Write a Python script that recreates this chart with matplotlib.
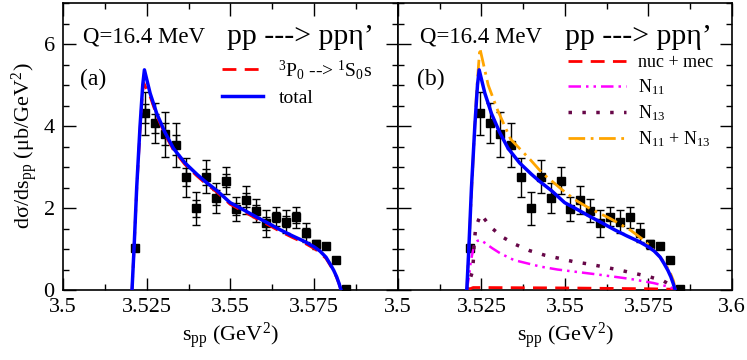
import matplotlib
matplotlib.use("Agg")
import matplotlib.pyplot as plt
from matplotlib.ticker import MultipleLocator

plt.rcParams['font.family'] = ['Liberation Serif', 'DejaVu Serif']
plt.rcParams['mathtext.fontset'] = 'custom'
plt.rcParams['mathtext.rm'] = 'Liberation Serif'
plt.rcParams['mathtext.it'] = 'Liberation Serif:italic'

# data points (s_pp in GeV^2, dsigma/ds_pp in mub/GeV^2)
s_data = [3.5215, 3.5245, 3.5275, 3.5304, 3.5337, 3.5367, 3.5397, 3.5427,
          3.5457, 3.5487, 3.5516, 3.5546, 3.5576, 3.5606, 3.5635, 3.5665,
          3.5695, 3.5724, 3.5754, 3.5784, 3.5814, 3.5844]
y_data = [1.02, 4.31, 4.07, 3.80, 3.54, 2.75, 1.99, 2.76, 2.25, 2.67, 1.98,
          2.20, 1.93, 1.63, 1.79, 1.67, 1.77, 1.40, 1.11, 1.08, 0.73, 0.02]
err_tot = [0.06, 0.52, 0.49, 0.55, 0.53, 0.47, 0.41, 0.40, 0.37, 0.32, 0.30,
           0.34, 0.28, 0.33, 0.24, 0.27, 0.26, 0.23, 0.10, 0.07, 0.04, 0.02]
err_stat = [0.03, 0.23, 0.23, 0.27, 0.25, 0.22, 0.20, 0.20, 0.18, 0.16, 0.15,
            0.17, 0.14, 0.16, 0.12, 0.13, 0.13, 0.11, 0.05, 0.04, 0.02, 0.01]

# total
s_total = [3.5206, 3.5212, 3.5220, 3.5230, 3.5238, 3.5243, 3.5260, 3.5280,
           3.5304, 3.5330, 3.5364, 3.5400, 3.5424, 3.5460, 3.5499, 3.5540,
           3.5573, 3.5610, 3.5648, 3.5685, 3.5722, 3.5750, 3.5767, 3.5785,
           3.5797, 3.5808, 3.5817, 3.5824, 3.5830]
y_total = [0.0, 1.0, 2.5, 4.0, 5.0, 5.37, 4.80, 4.30, 3.85, 3.45, 3.10, 2.82,
           2.65, 2.42, 2.13, 1.95, 1.80, 1.64, 1.47, 1.32, 1.18, 1.05, 0.95,
           0.80, 0.64, 0.48, 0.32, 0.16, 0.0]

# 3P0 --> 1S0 s
s_p0 = [3.5206, 3.5212, 3.5220, 3.5230, 3.5237, 3.5241, 3.5260, 3.5280,
        3.5304, 3.5330, 3.5364, 3.5400, 3.5424, 3.5460, 3.5499, 3.5540,
        3.5573, 3.5610, 3.5648, 3.5685, 3.5722, 3.5750, 3.5767, 3.5785,
        3.5797, 3.5808, 3.5817, 3.5824, 3.5830]
y_p0 = [0.0, 0.98, 2.45, 3.90, 4.80, 5.05, 4.72, 4.25, 3.80, 3.41, 3.06,
        2.78, 2.61, 2.38, 2.09, 1.91, 1.76, 1.60, 1.43, 1.28, 1.14, 1.01,
        0.91, 0.77, 0.61, 0.46, 0.30, 0.15, 0.0]

# nuc + mec
s_nuc = [3.5206, 3.5225, 3.5250, 3.5500, 3.5750, 3.5820, 3.5830]
y_nuc = [0.0, 0.06, 0.06, 0.05, 0.03, 0.02, 0.0]

# N11
s_n11 = [3.5206, 3.5212, 3.5218, 3.5228, 3.5238, 3.5248, 3.5282, 3.5307,
         3.5347, 3.5387, 3.5427, 3.5477, 3.5526, 3.5596, 3.5696, 3.5765,
         3.5815, 3.5830]
y_n11 = [0.0, 0.30, 0.70, 1.10, 1.20, 1.22, 1.02, 0.89, 0.73, 0.65, 0.57,
         0.50, 0.45, 0.38, 0.27, 0.17, 0.07, 0.0]

# N13
s_n13 = [3.5206, 3.5215, 3.5223, 3.5226, 3.5228, 3.5233, 3.5248, 3.5278,
         3.5313, 3.5352, 3.5394, 3.5439, 3.5484, 3.5526, 3.5574, 3.5661,
         3.5750, 3.5795, 3.5820, 3.5830]
y_n13 = [0.0, 0.25, 0.45, 0.77, 1.15, 1.54, 1.85, 1.53, 1.29, 1.11, 0.96,
         0.85, 0.77, 0.69, 0.63, 0.49, 0.33, 0.22, 0.10, 0.0]

# N11 + N13
s_sum = [3.5206, 3.5215, 3.5225, 3.5235, 3.5245, 3.5270, 3.5298, 3.5337,
         3.5397, 3.5432, 3.5457, 3.5501, 3.5536, 3.5576, 3.5636, 3.5696,
         3.5735, 3.5755, 3.5780, 3.5800, 3.5815, 3.5825, 3.5830]
y_sum = [0.0, 1.5, 3.2, 4.8, 5.9, 5.0, 4.39, 3.68, 3.17, 2.85, 2.68, 2.38,
         2.17, 1.98, 1.74, 1.46, 1.22, 1.06, 0.85, 0.65, 0.42, 0.22, 0.0]

xticks = [3.5, 3.525, 3.55, 3.575, 3.6]
yticks = [0, 2, 4, 6]

BLUE = '#0000FF'
RED = '#FF0000'
MAGENTA = '#FF00FF'
MAROON = '#670748'
ORANGE = '#FFA500'

W, H = 747, 360
fig = plt.figure(figsize=(W / 100, H / 100), dpi=100)
ax_a = fig.add_axes([63 / W, 1 - 290 / H, 335 / W, 287 / H])
ax_b = fig.add_axes([398 / W, 1 - 290 / H, 334 / W, 287 / H])


def style_axes(ax, ylabels=True, last_xlabel=True):
    ax.set_xlim(3.5, 3.6)
    ax.set_ylim(0, 7)
    ax.set_xticks(xticks)
    labels = ['3.5', '3.525', '3.55', '3.575', '3.6']
    if not last_xlabel:
        labels[-1] = ''
    ax.set_xticklabels(labels)
    ax.set_yticks(yticks)
    if ylabels:
        ax.set_yticklabels([str(v) for v in yticks])
    else:
        ax.set_yticklabels([])
    ax.xaxis.set_minor_locator(MultipleLocator(0.0125))
    ax.yaxis.set_minor_locator(MultipleLocator(0.5))
    ax.tick_params(which='both', direction='in', top=True, right=True,
                   labelsize=16, width=1.0)
    ax.tick_params(which='major', length=9, pad=6)
    ax.tick_params(which='minor', length=4.5)
    for sp in ax.spines.values():
        sp.set_linewidth(1.2)
    ax.set_xlabel(r'$\mathrm{s_{pp}}$ (GeV$^{2}$)', fontsize=16, labelpad=2)


def draw_data(ax, with_stat):
    ax.errorbar(s_data, y_data, yerr=err_tot, fmt='s', color='black',
                ms=6, elinewidth=1.0, capsize=3, capthick=1.0, zorder=5)
    if with_stat:
        ax.errorbar(s_data, y_data, yerr=err_stat, fmt='none', ecolor='black',
                    elinewidth=1.0, capsize=3, capthick=1.0, zorder=5)


# panel (a)
style_axes(ax_a, ylabels=True, last_xlabel=False)
draw_data(ax_a, True)
ax_a.plot(s_p0, y_p0, color=RED, lw=2, ls=(0, (5, 3)),
          label=r'$^{3}$P$_{0}$ --> $^{1}$S$_{0}$s', zorder=6)
ax_a.plot(s_total, y_total, color=BLUE, lw=2.5, label='total', zorder=7)
ax_a.legend(loc='upper left', bbox_to_anchor=(222 / W, 1 - 58 / H),
            bbox_transform=fig.transFigure, frameon=False, fontsize=14,
            handlelength=2.1, handletextpad=0.8, labelspacing=0.4,
            borderpad=0, borderaxespad=0)
fig.text(83 / W, 1 - 37 / H, 'Q=16.4 MeV', fontsize=16.5, va='center', ha='left')
fig.text(227 / W, 1 - 37 / H, 'pp ---> ppη’', fontsize=21.5, va='center', ha='left')
fig.text(80 / W, 1 - 79 / H, '(a)', fontsize=17, va='center', ha='left')

# panel (b)
style_axes(ax_b, ylabels=False, last_xlabel=True)
draw_data(ax_b, False)
ax_b.plot(s_nuc, y_nuc, color=RED, lw=2, ls=(0, (5, 3)), label='nuc + mec', zorder=6)
ax_b.plot(s_n11, y_n11, color=MAGENTA, lw=1.8, ls=(0, (5, 2, 1, 2, 1, 2)),
          label=r'N$_{11}$', zorder=6)
ax_b.plot(s_n13, y_n13, color=MAROON, lw=2.5, ls=(0, (1, 3)),
          label=r'N$_{13}$', zorder=6)
ax_b.plot(s_sum, y_sum, color=ORANGE, lw=2, ls=(0, (6, 2, 1, 2)),
          label=r'N$_{11}$ + N$_{13}$', zorder=6)
ax_b.plot(s_total, y_total, color=BLUE, lw=2.5, zorder=7)
ax_b.legend(loc='upper left', bbox_to_anchor=(568 / W, 1 - 54 / H),
            bbox_transform=fig.transFigure, frameon=False, fontsize=13,
            handlelength=3.2, handletextpad=0.7, labelspacing=0.35,
            borderpad=0, borderaxespad=0)
fig.text(420 / W, 1 - 37 / H, 'Q=16.4 MeV', fontsize=16.5, va='center', ha='left')
fig.text(565 / W, 1 - 37 / H, 'pp ---> ppη’', fontsize=21.5, va='center', ha='left')
fig.text(417 / W, 1 - 79 / H, '(b)', fontsize=17, va='center', ha='left')

fig.text(25 / W, 1 - 146 / H, r'dσ/ds$_{\mathrm{pp}}$ (μb/GeV$^{2}$)',
         fontsize=16, rotation=90, va='center', ha='center')

fig.savefig('out.png', dpi=100)
